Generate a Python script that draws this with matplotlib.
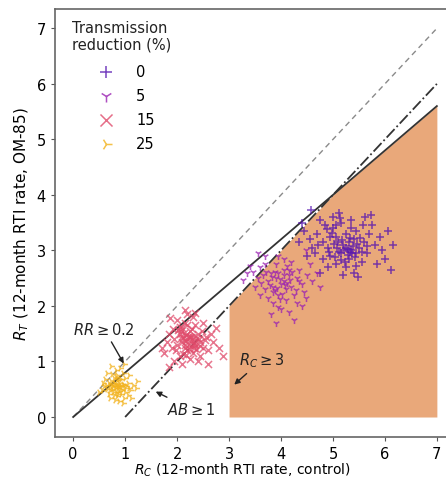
import matplotlib
matplotlib.use("Agg")
import matplotlib.pyplot as plt
import numpy as np

# ---- data ----
x0 = [5.20,5.05,5.35,4.90,5.15,5.40,5.00,5.25,4.80,5.50,5.10,5.30,4.95,5.45,4.70,5.60,5.15,4.85,5.35,5.05,
      5.55,4.65,5.70,5.25,4.75,5.80,4.55,5.00,5.65,4.60,5.95,5.40,4.90,5.75,4.45,6.15,6.12,5.48,5.73,4.58,
      4.40,4.35,5.90,6.00,5.20,4.80,5.58,5.12,4.95,5.30,5.22,5.08,5.45,4.75,5.85,5.62,4.50,6.05,5.33,5.28,
      5.28,5.38,5.18,5.42,5.32,5.12,5.02,5.52,5.26,5.36,4.98,5.16,5.46,5.06,5.56,4.88,5.24,5.34,5.44,4.92,
      5.66,5.14,4.72,5.04]
y0 = [3.10,3.25,3.00,3.05,2.95,3.20,3.40,3.30,3.15,3.05,3.15,2.85,2.90,3.35,3.30,3.15,3.50,3.45,3.55,2.75,
      2.80,2.95,3.30,2.70,3.55,3.10,3.20,3.60,2.95,3.05,3.00,2.60,2.70,3.45,3.35,3.10,2.64,2.53,3.63,3.72,
      3.50,3.15,3.25,2.85,2.55,2.85,3.45,3.68,3.25,3.15,3.00,3.05,2.95,2.60,2.75,3.60,2.90,3.35,2.98,3.02,
      2.92,3.08,3.18,2.88,3.22,2.98,3.12,3.22,3.05,2.95,3.32,2.82,3.12,3.45,2.98,3.38,2.80,3.40,2.72,2.98,
      3.08,3.58,3.10,2.88]

x5 = [4.00,3.90,4.10,3.85,4.15,3.95,4.05,3.80,4.20,3.75,4.25,3.70,4.30,3.90,4.10,3.65,4.35,3.85,4.40,3.60,
      4.00,4.45,3.55,4.20,3.95,4.50,3.75,4.15,4.60,3.50,4.30,3.80,4.55,4.05,3.70,3.46,3.27,3.69,3.40,4.70,
      4.25,3.90,4.40,3.60,4.75,3.95,4.05,4.12,3.88,3.55,3.35,4.48,
      3.98,4.08,3.92,4.18,3.82,4.02,4.22,3.78,3.88,4.28,3.72,4.12,3.98,4.35,3.62,4.48,3.84,4.06,4.16,3.94]
y5 = [2.40,2.50,2.30,2.35,2.55,2.20,2.65,2.60,2.35,2.45,2.20,2.30,2.50,2.75,2.10,2.55,2.65,2.05,2.40,2.70,
      1.95,2.25,2.50,2.80,2.90,2.55,2.15,1.90,2.45,2.35,2.05,1.85,2.75,2.85,2.90,2.62,2.46,2.76,2.72,2.60,
      1.75,1.70,2.00,2.20,2.35,2.60,2.45,2.42,2.28,2.95,2.60,3.00,
      2.48,2.38,2.32,2.46,2.52,2.22,2.62,2.38,2.62,2.28,2.62,2.72,2.12,2.45,2.42,2.15,2.25,2.55,2.65,1.98]

x15 = [2.20,2.10,2.30,2.15,2.25,2.05,2.35,2.00,2.40,2.20,2.10,2.30,1.95,2.45,2.15,2.50,1.90,2.25,2.35,2.05,
       2.55,1.85,2.40,2.00,2.60,1.80,2.20,2.65,1.87,2.50,1.75,2.70,2.10,2.30,1.95,2.60,2.15,2.75,1.85,2.45,
       2.88,2.18,2.28,2.12,2.22,1.70,2.80,2.35,2.25,2.08,2.32,2.42,
       2.18,2.26,2.14,2.32,2.08,2.24,2.38,2.02,2.16,2.28,2.20,2.44,1.98,2.36,2.12,2.22,2.06,2.48,2.30,2.18,
       1.92,2.54]
y15 = [1.40,1.35,1.45,1.25,1.55,1.50,1.30,1.30,1.50,1.20,1.60,1.15,1.40,1.35,1.70,1.25,1.25,1.05,1.65,1.10,
       1.45,1.50,1.00,1.75,1.20,1.35,1.85,1.50,1.78,1.70,1.15,1.35,0.95,1.80,1.00,0.95,1.92,1.60,0.90,1.10,
       1.10,1.48,1.38,1.42,1.30,1.25,1.25,1.88,1.45,1.55,1.25,1.40,
       1.36,1.44,1.52,1.34,1.42,1.22,1.42,1.56,1.30,1.58,1.66,1.28,1.20,1.22,1.14,1.46,1.62,1.55,1.32,1.12,
       1.58,1.38]

x25 = [0.85,0.80,0.90,0.75,0.95,0.82,0.88,0.70,1.00,0.78,0.92,0.65,1.05,0.85,0.72,0.98,0.60,1.10,0.80,0.95,
       0.68,1.15,0.88,0.62,1.05,0.75,1.20,0.55,0.90,1.00,0.70,1.12,0.58,0.82,0.95,1.08,0.66,0.87,0.83,0.93,
       0.77,0.50,1.22,0.73,0.98,
       0.86,0.81,0.91,0.79,0.89,0.84,0.94,0.74,0.97,0.87,0.71,1.02,0.79,0.92,0.84,0.64,1.07,0.89,0.76,0.99,
       0.82,0.69]
y25 = [0.55,0.60,0.50,0.50,0.60,0.45,0.68,0.58,0.52,0.40,0.42,0.50,0.62,0.75,0.65,0.35,0.55,0.48,0.30,0.80,
       0.42,0.58,0.28,0.68,0.40,0.78,0.52,0.48,0.88,0.70,0.35,0.35,0.62,0.85,0.25,0.75,0.80,0.52,0.58,0.55,
       0.55,0.45,0.65,0.92,0.95,
       0.56,0.52,0.58,0.62,0.46,0.66,0.48,0.56,0.58,0.42,0.48,0.55,0.70,0.68,0.38,0.58,0.52,0.62,0.45,0.45,
       0.72,0.62]

groups = ["0", "5", "15", "25"]
colors = ["#5514b0", "#9a22b2", "#e04a6a", "#f2b21c"]
markers = ["+", "1", "x", "4"]

line_x = [0, 7]
rr_slope = 0.8
ab_offset = 1
rc_min = 3

fig = plt.figure(figsize=(4.46, 4.81), dpi=100)
ax = fig.add_axes([0.1233, 0.0894, 0.897, 0.89])

# shaded region: Rc >= 3, below both RR and AB lines
fx = np.array([rc_min, 5, 7])
fy = np.minimum(rr_slope * fx, fx - ab_offset)
ax.fill_between(fx, 0, fy, color="#e9a87a", lw=0, zorder=1)

# lines
ax.plot(line_x, line_x, ls=(0, (4, 3)), color="#8a8a8a", lw=1.0, zorder=2)
ax.plot(line_x, [rr_slope * v for v in line_x], color="#333333", lw=1.3, zorder=2)
ax.plot([ab_offset, 7], [0, 7 - ab_offset], ls="-.", color="#333333", lw=1.3, zorder=2)

xs = [x0, x5, x15, x25]
ys = [y0, y5, y15, y25]
for g, c, m, xx, yy in zip(groups, colors, markers, xs, ys):
    ax.scatter(xx, yy, marker=m, color=c, s=26, lw=1.1, alpha=0.75, label=g, zorder=3)

# annotations
ak = dict(arrowstyle="-|>", color="#222222", lw=1.0, mutation_scale=8)
ax.annotate(r"$RR \geq 0.2$", xy=(1.0, 0.92), xytext=(0.0, 1.5),
            fontsize=10.5, color="#222222", arrowprops=ak, zorder=4)
ax.annotate(r"$AB \geq 1$", xy=(1.54, 0.48), xytext=(1.8, 0.05),
            fontsize=10.5, color="#222222", arrowprops=ak, zorder=4)
ax.annotate(r"$R_C \geq 3$", xy=(3.06, 0.55), xytext=(3.2, 0.95),
            fontsize=10.5, color="#222222", arrowprops=ak, zorder=4)

ax.set_xlim(-0.35, 7.35)
ax.set_ylim(-0.36, 7.35)
ax.set_xticks(range(0, 8))
ax.set_yticks(range(0, 8))
ax.tick_params(labelsize=10.5, length=3, color="#555555")
for s in ax.spines.values():
    s.set_color("#666666")
    s.set_linewidth(1.2)

ax.set_xlabel(r"$R_C$ (12-month RTI rate, control)", fontsize=10, labelpad=2)
ax.xaxis.set_label_coords(0.4675, -0.055)
ax.set_ylabel(r"$R_T$ (12-month RTI rate, OM-85)", fontsize=11, labelpad=4)

# legend title as text, legend entries indented below it
ax.text(0.042, 0.975, "Transmission\nreduction (%)", transform=ax.transAxes,
        ha="left", va="top", fontsize=10.5, color="#222222", linespacing=1.15)
leg = ax.legend(loc="upper left", bbox_to_anchor=(0.09, 0.872), frameon=False,
                fontsize=10.5, borderaxespad=0.0, borderpad=0.0, labelspacing=0.62,
                handlelength=2.0, handletextpad=1.1, markerscale=1.7)
for h in leg.legend_handles:
    h.set_alpha(0.8)

fig.savefig("out.png", dpi=100)
